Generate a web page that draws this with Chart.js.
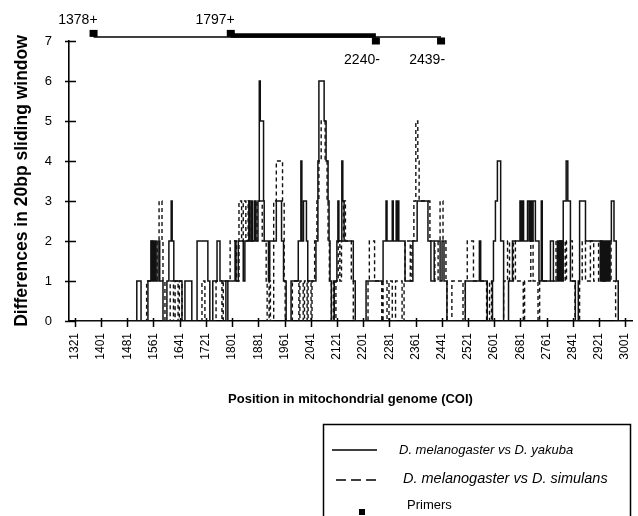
<!DOCTYPE html>
<html>
<head>
<meta charset="utf-8">
<script src="https://cdn.jsdelivr.net/npm/chart.js@4.4.0/dist/chart.umd.min.js"></script>
<style>
  html, body { margin: 0; padding: 0; background: #fff; }
  #chart { display: block; }
</style>
</head>
<body>
<canvas id="chart" width="638" height="516"></canvas>
<script>
// --- DATA ---
const xTickValues = [1321, 1401, 1481, 1561, 1641, 1721, 1801, 1881, 1961, 2041, 2121,
    2201, 2281, 2361, 2441, 2521, 2601, 2681, 2761, 2841, 2921, 3001];
const yTickValues = [0, 1, 2, 3, 4, 5, 6, 7];

// [position, differences] : value holds until the next position
const yakubaSteps = [
    [1321, 0], [1510, 1], [1523, 0], [1544, 1], [1553, 2], [1556, 1], [1559, 2], [1563, 1], [1566, 2], [1569, 1],
    [1575, 2], [1580, 1], [1590, 0], [1602, 1], [1608, 2], [1615, 3], [1618, 2], [1623, 1], [1648, 0], [1657, 1],
    [1678, 0], [1694, 2], [1727, 1], [1733, 0], [1742, 1], [1755, 2], [1764, 1], [1782, 0], [1788, 1], [1810, 2],
    [1813, 1], [1820, 2], [1835, 1], [1840, 2], [1852, 3], [1855, 2], [1860, 3], [1864, 2], [1870, 3], [1874, 2],
    [1880, 3], [1884, 6], [1887, 5], [1897, 3], [1899, 2], [1912, 1], [1916, 2], [1936, 3], [1952, 2], [1958, 1],
    [1966, 0], [1981, 1], [2003, 2], [2011, 4], [2014, 2], [2019, 3], [2028, 2], [2032, 1], [2057, 2], [2063, 4],
    [2066, 6], [2082, 5], [2088, 4], [2094, 3], [2097, 2], [2100, 1], [2104, 0], [2113, 1], [2121, 2], [2124, 3],
    [2127, 2], [2136, 4], [2139, 3], [2143, 2], [2171, 1], [2177, 0], [2210, 1], [2262, 2], [2271, 3], [2274, 2],
    [2290, 3], [2293, 2], [2302, 3], [2305, 2], [2307, 3], [2310, 2], [2329, 1], [2353, 2], [2366, 3], [2399, 2],
    [2408, 1], [2418, 2], [2436, 1], [2442, 2], [2448, 1], [2457, 0], [2513, 1], [2556, 2], [2560, 1], [2580, 0],
    [2596, 1], [2599, 2], [2605, 3], [2611, 4], [2621, 2], [2630, 0], [2645, 1], [2657, 2], [2680, 3], [2684, 2],
    [2688, 3], [2691, 2], [2703, 3], [2708, 2], [2712, 3], [2716, 2], [2720, 3], [2727, 2], [2738, 1], [2745, 3],
    [2748, 1], [2773, 2], [2782, 1], [2794, 2], [2797, 1], [2800, 2], [2803, 1], [2806, 2], [2809, 1], [2812, 3],
    [2821, 4], [2826, 3], [2834, 1], [2849, 0], [2858, 1], [2862, 3], [2880, 2], [2925, 1], [2928, 2], [2931, 1],
    [2934, 2], [2937, 1], [2940, 2], [2944, 1], [2947, 2], [2951, 1], [2955, 2], [2959, 3], [2967, 2], [2974, 1],
    [2980, 0], [2990, 0]
];

const simulansSteps = [
    [1321, 0], [1540, 1], [1556, 2], [1566, 1], [1572, 2], [1578, 3], [1587, 2], [1590, 1], [1596, 0], [1612, 1],
    [1622, 0], [1627, 1], [1636, 0], [1640, 1], [1648, 0], [1709, 1], [1718, 0], [1752, 1], [1770, 0], [1774, 1],
    [1795, 2], [1815, 1], [1822, 3], [1830, 2], [1835, 3], [1843, 2], [1850, 3], [1855, 2], [1877, 3], [1893, 2],
    [1905, 1], [1908, 0], [1914, 1], [1918, 0], [1928, 3], [1936, 4], [1955, 3], [1960, 1], [1963, 0], [1985, 1],
    [2005, 0], [2008, 1], [2018, 0], [2022, 1], [2030, 0], [2033, 1], [2042, 0], [2045, 1], [2053, 2], [2060, 3],
    [2066, 4], [2073, 5], [2085, 4], [2091, 3], [2094, 2], [2098, 1], [2104, 0], [2110, 1], [2113, 0], [2118, 1],
    [2125, 2], [2130, 1], [2135, 2], [2141, 3], [2147, 2], [2165, 1], [2171, 0], [2216, 1], [2220, 2], [2236, 1],
    [2258, 0], [2262, 1], [2274, 0], [2280, 1], [2290, 0], [2300, 1], [2320, 0], [2326, 1], [2329, 2], [2345, 1],
    [2350, 2], [2356, 3], [2362, 5], [2368, 4], [2372, 3], [2405, 2], [2420, 1], [2430, 2], [2436, 3], [2445, 2],
    [2454, 1], [2457, 0], [2472, 1], [2506, 0], [2513, 1], [2519, 2], [2538, 1], [2578, 0], [2587, 1], [2593, 0],
    [2630, 1], [2642, 2], [2648, 1], [2660, 2], [2666, 1], [2690, 0], [2694, 1], [2713, 2], [2720, 1], [2735, 0],
    [2740, 1], [2790, 2], [2818, 1], [2822, 2], [2840, 1], [2848, 0], [2862, 1], [2870, 2], [2880, 1], [2895, 2],
    [2905, 1], [2920, 2], [2930, 1], [2950, 2], [2958, 1], [2972, 0], [2990, 0]
];

const primerPositions = [1378, 1797, 2240, 2439];
const primerLabels = ['1378+', '1797+', '2240-', '2439-'];
const primerLevels = [7.19, 7.19, 7.0, 7.0];
const primerLineLevel = 7.1;
const ampliconLevel = 7.14;

const FONT = "'Liberation Sans', Arial, Helvetica, sans-serif";
const INK = '#000';

const toPoints = steps => steps.map(([x, y]) => ({ x, y }));

// --- DECORATION PLUGIN: crossing ticks, primer markers, boxed legend ---
const figureDecor = {
    id: 'figureDecor',
    afterDraw(chart) {
        const { ctx, scales: { x, y } } = chart;
        ctx.save();
        ctx.strokeStyle = INK;
        ctx.fillStyle = INK;
        ctx.lineWidth = 1.5;

        // tick marks crossing the axes
        ctx.beginPath();
        xTickValues.forEach(v => {
            const px = Math.round(x.getPixelForValue(v)) + 0.5;
            ctx.moveTo(px, y.bottom - 3);
            ctx.lineTo(px, y.bottom + 6);
        });
        yTickValues.forEach(v => {
            const py = Math.round(y.getPixelForValue(v)) + 0.5;
            ctx.moveTo(x.left - 4, py);
            ctx.lineTo(x.left + 7, py);
        });
        ctx.stroke();

        // primer squares and labels (above the plot area, so drawn here)
        ctx.font = `14px ${FONT}`;
        ctx.textAlign = 'right';
        ctx.textBaseline = 'middle';
        primerPositions.forEach((pos, i) => {
            const px = x.getPixelForValue(pos);
            const py = y.getPixelForValue(primerLevels[i]);
            ctx.fillRect(px - 4, py - 3.5, 8, 7);
            const up = primerLabels[i].endsWith('+');
            ctx.fillText(primerLabels[i], px + 4, up ? py - 13 : py + 19);
        });

        // legend box
        ctx.lineWidth = 1.5;
        ctx.strokeRect(323.5, 424.5, 307, 110);
        ctx.textAlign = 'left';

        ctx.beginPath();
        ctx.moveTo(332, 450);
        ctx.lineTo(377, 450);
        ctx.stroke();
        ctx.font = `italic 13px ${FONT}`;
        ctx.fillText('D. melanogaster vs D. yakuba', 399, 450);

        ctx.setLineDash([10, 5]);
        ctx.beginPath();
        ctx.moveTo(336, 480);
        ctx.lineTo(379, 480);
        ctx.stroke();
        ctx.setLineDash([]);
        ctx.font = `italic 14.5px ${FONT}`;
        ctx.fillText('D. melanogaster vs D. simulans', 403, 479);

        ctx.fillRect(359, 509, 6, 6);
        ctx.font = `13px ${FONT}`;
        ctx.fillText('Primers', 407, 505);
        ctx.restore();
    }
};

// --- CHART ---
const ctx = document.getElementById('chart').getContext('2d');
new Chart(ctx, {
    type: 'line',
    data: {
        datasets: [
            { label: 'D. melanogaster vs D. yakuba', data: toPoints(yakubaSteps), stepped: true,
              borderColor: '#111', borderWidth: 1.5, pointRadius: 0, fill: false },
            { label: 'D. melanogaster vs D. simulans', data: toPoints(simulansSteps), stepped: true,
              borderColor: '#111', borderWidth: 1.4, borderDash: [4, 3], pointRadius: 0, fill: false },
            { label: 'primer span', data: [{ x: primerPositions[0], y: primerLineLevel }, { x: primerPositions[3], y: primerLineLevel }],
              borderColor: INK, borderWidth: 1.6, pointRadius: 0, clip: false },
            { label: 'amplicon', data: [{ x: primerPositions[1], y: ampliconLevel }, { x: primerPositions[2], y: ampliconLevel }],
              borderColor: INK, borderWidth: 4.5, pointRadius: 0, clip: false }
        ]
    },
    options: {
        responsive: false,
        animation: false,
        devicePixelRatio: 1,
        layout: { padding: { left: 12, right: 6, top: 41, bottom: 109 } },
        plugins: { legend: { display: false }, tooltip: { enabled: false } },
        scales: {
            x: {
                type: 'linear', min: 1303, max: 3022,
                afterBuildTicks: s => { s.ticks = xTickValues.map(value => ({ value })); },
                afterFit: s => { s.height = 86; s.paddingLeft = 0; s.paddingRight = 0; },
                grid: { display: false },
                border: { display: true, color: INK, width: 1.6 },
                ticks: { autoSkip: false, minRotation: 90, maxRotation: 90, padding: 4, color: INK,
                         font: { family: FONT, size: 12 }, callback: v => String(v) },
                title: { display: true, text: 'Position in mitochondrial genome (COI)', color: INK,
                         font: { family: FONT, size: 13, weight: 'bold' }, padding: { top: 0, bottom: 0 } }
            },
            y: {
                min: 0, max: 7,
                afterBuildTicks: s => { s.ticks = yTickValues.map(value => ({ value })); },
                afterFit: s => { s.width = 57; },
                grid: { display: false },
                border: { display: true, color: INK, width: 1.6 },
                ticks: { padding: 9, color: INK, font: { family: FONT, size: 13 } },
                title: { display: true, text: 'Differences in 20bp sliding window', color: INK,
                         font: { family: FONT, size: 17.5, weight: 'bold' }, padding: { top: 0, bottom: 0 } }
            }
        }
    },
    plugins: [figureDecor]
});
</script>
</body>
</html>
